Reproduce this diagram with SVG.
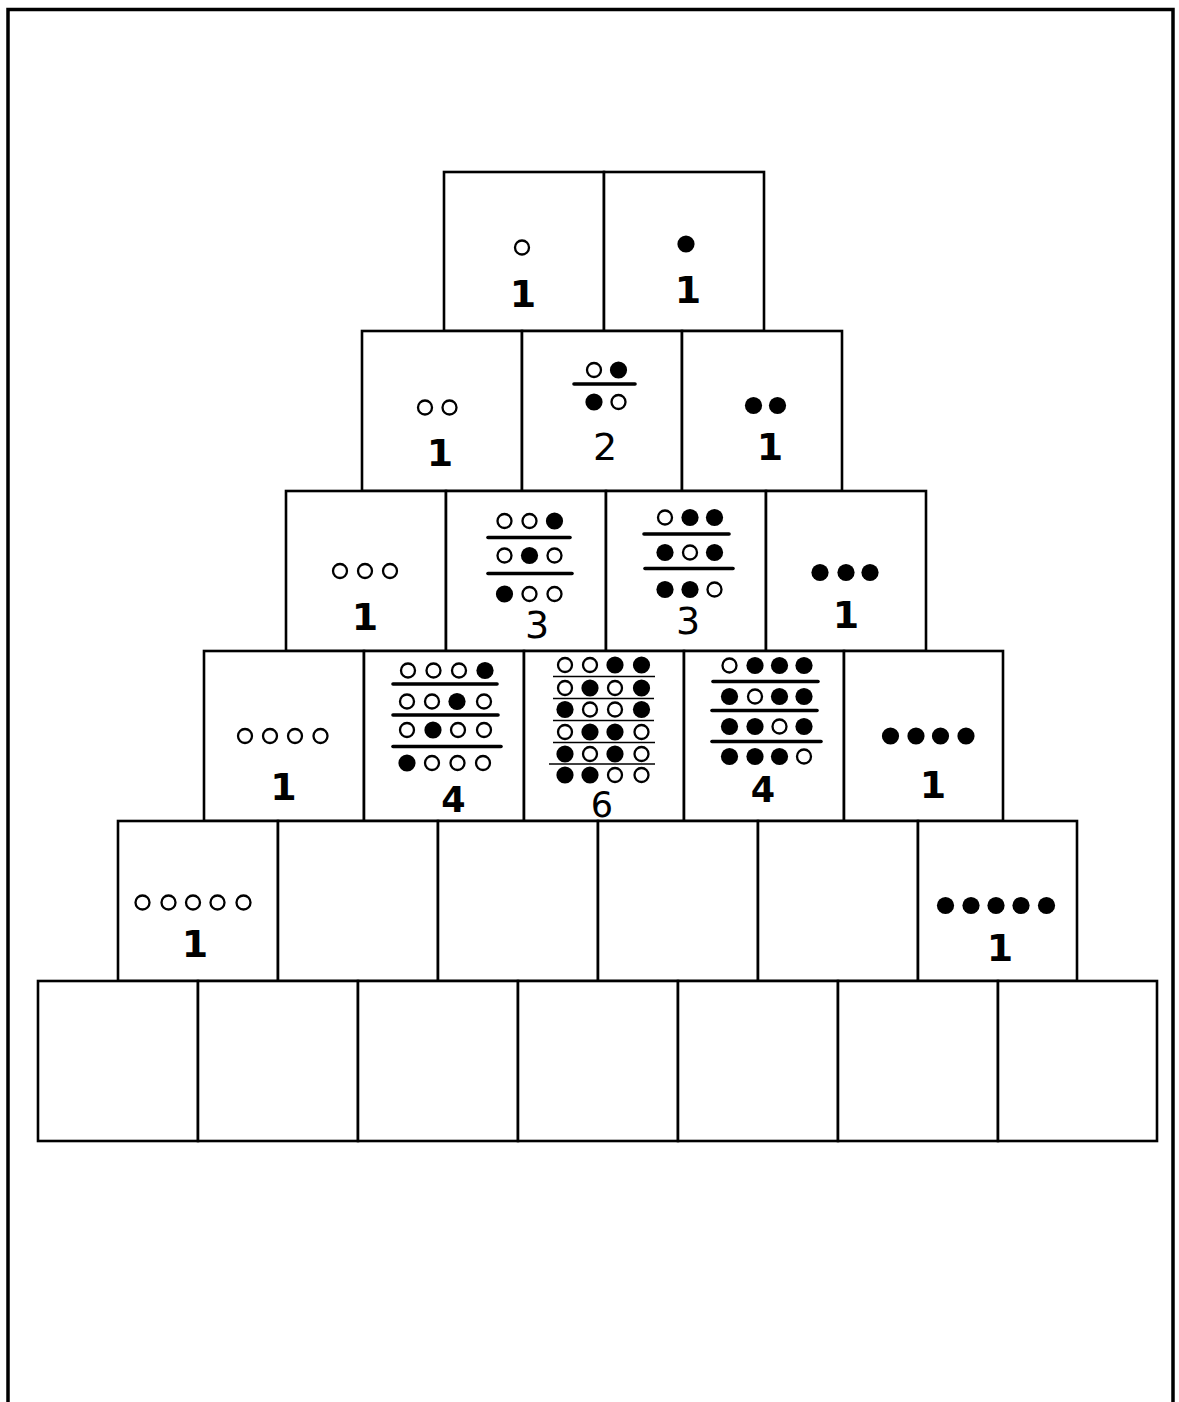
<svg xmlns="http://www.w3.org/2000/svg" xmlns:xlink="http://www.w3.org/1999/xlink" width="1179" height="1402" viewBox="0 0 1179 1402">
<style>
.cell{fill:#fff;stroke:#000;stroke-width:2.6}
.frame{fill:none;stroke:#000;stroke-width:3.5}
.bar{stroke:#000;stroke-width:3.6;stroke-linecap:round}
.thin{stroke:#000;stroke-width:1.6}
.num{font-family:"DejaVu Sans","Liberation Sans",sans-serif;font-size:38px;text-anchor:middle;fill:#000}
.one{font-weight:bold}
.sm{font-size:35px}
</style>
<defs>
<circle id="o" r="7" fill="#fff" stroke="#000" stroke-width="2.3"/>
<circle id="f" r="8.6" fill="#000"/>
</defs>
<rect width="1179" height="1402" fill="#fff"/>
<g id="frame">
<polyline class="frame" points="8,1402 8,9.5 1173,9.5 1173,1402"/>
</g>

<!-- Row 1 -->
<g id="r1c1"><rect class="cell" x="444" y="172" width="160" height="159"/>
<use xlink:href="#o" x="522" y="247.5"/>
<text class="num one" x="523" y="307">1</text></g>
<g id="r1c2"><rect class="cell" x="604" y="172" width="160" height="159"/>
<use xlink:href="#f" x="686" y="244"/>
<text class="num one" x="688" y="303">1</text></g>

<!-- Row 2 -->
<g id="r2c1"><rect class="cell" x="362" y="331" width="160" height="160"/>
<use xlink:href="#o" x="425" y="407.5"/><use xlink:href="#o" x="449.5" y="407.5"/>
<text class="num one" x="440" y="466">1</text></g>
<g id="r2c2"><rect class="cell" x="522" y="331" width="160" height="160"/>
<use xlink:href="#o" x="594" y="370"/><use xlink:href="#f" x="618.5" y="370"/>
<line class="bar" x1="574" y1="384" x2="635" y2="384"/>
<use xlink:href="#f" x="594" y="402"/><use xlink:href="#o" x="618.5" y="402"/>
<text class="num" x="605" y="460">2</text></g>
<g id="r2c3"><rect class="cell" x="682" y="331" width="160" height="160"/>
<use xlink:href="#f" x="753.5" y="405.5"/><use xlink:href="#f" x="777.5" y="405.5"/>
<text class="num one" x="770" y="460">1</text></g>

<!-- Row 3 -->
<g id="r3c1"><rect class="cell" x="286" y="491" width="160" height="160"/>
<use xlink:href="#o" x="340" y="571"/><use xlink:href="#o" x="365" y="571"/><use xlink:href="#o" x="390" y="571"/>
<text class="num one" x="365" y="630">1</text></g>
<g id="r3c2"><rect class="cell" x="446" y="491" width="160" height="160"/>
<use xlink:href="#o" x="504.5" y="521"/><use xlink:href="#o" x="529.5" y="521"/><use xlink:href="#f" x="554.5" y="521"/>
<line class="bar" x1="488" y1="537.5" x2="570" y2="537.5"/>
<use xlink:href="#o" x="504.5" y="555.5"/><use xlink:href="#f" x="529.5" y="555.5"/><use xlink:href="#o" x="554.5" y="555.5"/>
<line class="bar" x1="488" y1="573.5" x2="572" y2="573.5"/>
<use xlink:href="#f" x="504.5" y="594"/><use xlink:href="#o" x="529.5" y="594"/><use xlink:href="#o" x="554.5" y="594"/>
<text class="num" x="537" y="638">3</text></g>
<g id="r3c3"><rect class="cell" x="606" y="491" width="160" height="160"/>
<use xlink:href="#o" x="665" y="517.5"/><use xlink:href="#f" x="690" y="517.5"/><use xlink:href="#f" x="714.5" y="517.5"/>
<line class="bar" x1="644" y1="534" x2="729" y2="534"/>
<use xlink:href="#f" x="665" y="552.5"/><use xlink:href="#o" x="690" y="552.5"/><use xlink:href="#f" x="714.5" y="552.5"/>
<line class="bar" x1="645" y1="568.5" x2="733" y2="568.5"/>
<use xlink:href="#f" x="665" y="589.5"/><use xlink:href="#f" x="690" y="589.5"/><use xlink:href="#o" x="714.5" y="589.5"/>
<text class="num" x="688" y="634">3</text></g>
<g id="r3c4"><rect class="cell" x="766" y="491" width="160" height="160"/>
<use xlink:href="#f" x="820" y="572.5"/><use xlink:href="#f" x="846" y="572.5"/><use xlink:href="#f" x="870" y="572.5"/>
<text class="num one" x="846" y="628">1</text></g>

<!-- Row 4 -->
<g id="r4c1"><rect class="cell" x="204" y="651" width="160" height="170"/>
<use xlink:href="#o" x="245" y="736"/><use xlink:href="#o" x="270" y="736"/><use xlink:href="#o" x="295" y="736"/><use xlink:href="#o" x="320.5" y="736"/>
<text class="num one" x="283.5" y="800">1</text></g>
<g id="r4c2"><rect class="cell" x="364" y="651" width="160" height="170"/>
<use xlink:href="#o" x="408" y="670.5"/><use xlink:href="#o" x="433.5" y="670.5"/><use xlink:href="#o" x="459" y="670.5"/><use xlink:href="#f" x="485" y="670.5"/>
<line class="bar" x1="393" y1="684" x2="497" y2="684"/>
<use xlink:href="#o" x="407" y="701.5"/><use xlink:href="#o" x="432" y="701.5"/><use xlink:href="#f" x="457" y="701.5"/><use xlink:href="#o" x="484" y="701.5"/>
<line class="bar" x1="393" y1="715" x2="498" y2="715"/>
<use xlink:href="#o" x="407" y="730"/><use xlink:href="#f" x="433" y="730"/><use xlink:href="#o" x="458" y="730"/><use xlink:href="#o" x="484" y="730"/>
<line class="bar" x1="393" y1="746.5" x2="501" y2="746.5"/>
<use xlink:href="#f" x="407" y="763"/><use xlink:href="#o" x="432" y="763"/><use xlink:href="#o" x="457.5" y="763"/><use xlink:href="#o" x="483" y="763"/>
<text class="num sm one" x="453.5" y="812">4</text></g>
<g id="r4c3"><rect class="cell" x="524" y="651" width="160" height="170"/>
<use xlink:href="#o" x="565" y="665"/><use xlink:href="#o" x="590" y="665"/><use xlink:href="#f" x="615" y="665"/><use xlink:href="#f" x="641.5" y="665"/>
<line class="thin" x1="553" y1="676.5" x2="655" y2="676.5"/>
<use xlink:href="#o" x="565" y="688"/><use xlink:href="#f" x="590" y="688"/><use xlink:href="#o" x="615" y="688"/><use xlink:href="#f" x="641.5" y="688"/>
<line class="thin" x1="553" y1="698.5" x2="654" y2="698.5"/>
<use xlink:href="#f" x="565" y="709.5"/><use xlink:href="#o" x="590" y="709.5"/><use xlink:href="#o" x="615" y="709.5"/><use xlink:href="#f" x="641.5" y="709.5"/>
<line class="thin" x1="553" y1="720.5" x2="654" y2="720.5"/>
<use xlink:href="#o" x="565" y="732"/><use xlink:href="#f" x="590" y="732"/><use xlink:href="#f" x="615" y="732"/><use xlink:href="#o" x="641.5" y="732"/>
<line class="thin" x1="553" y1="742.5" x2="655" y2="742.5"/>
<use xlink:href="#f" x="565" y="754"/><use xlink:href="#o" x="590" y="754"/><use xlink:href="#f" x="615" y="754"/><use xlink:href="#o" x="641.5" y="754"/>
<line class="thin" x1="549" y1="764" x2="655" y2="764"/>
<use xlink:href="#f" x="565" y="775"/><use xlink:href="#f" x="590" y="775"/><use xlink:href="#o" x="615" y="775"/><use xlink:href="#o" x="641.5" y="775"/>
<text class="num sm" x="602" y="817">6</text></g>
<g id="r4c4"><rect class="cell" x="684" y="651" width="160" height="170"/>
<use xlink:href="#o" x="729.5" y="665.5"/><use xlink:href="#f" x="755" y="665.5"/><use xlink:href="#f" x="779.5" y="665.5"/><use xlink:href="#f" x="804" y="665.5"/>
<line class="bar" x1="713" y1="681.5" x2="818" y2="681.5"/>
<use xlink:href="#f" x="729.5" y="696.5"/><use xlink:href="#o" x="755" y="696.5"/><use xlink:href="#f" x="779.5" y="696.5"/><use xlink:href="#f" x="804" y="696.5"/>
<line class="bar" x1="712" y1="710.5" x2="817" y2="710.5"/>
<use xlink:href="#f" x="729.5" y="726.5"/><use xlink:href="#f" x="755" y="726.5"/><use xlink:href="#o" x="779.5" y="726.5"/><use xlink:href="#f" x="804" y="726.5"/>
<line class="bar" x1="712" y1="741.5" x2="821" y2="741.5"/>
<use xlink:href="#f" x="729.5" y="756.5"/><use xlink:href="#f" x="755" y="756.5"/><use xlink:href="#f" x="779.5" y="756.5"/><use xlink:href="#o" x="804" y="756.5"/>
<text class="num sm one" x="763" y="802">4</text></g>
<g id="r4c5"><rect class="cell" x="844" y="651" width="159" height="170"/>
<use xlink:href="#f" x="890.5" y="736"/><use xlink:href="#f" x="916" y="736"/><use xlink:href="#f" x="940.5" y="736"/><use xlink:href="#f" x="966" y="736"/>
<text class="num one" x="933" y="798">1</text></g>

<!-- Row 5 -->
<g id="r5c1"><rect class="cell" x="118" y="821" width="160" height="160"/>
<use xlink:href="#o" x="142.5" y="902.5"/><use xlink:href="#o" x="168.5" y="902.5"/><use xlink:href="#o" x="193" y="902.5"/><use xlink:href="#o" x="217.5" y="902.5"/><use xlink:href="#o" x="243.5" y="902.5"/>
<text class="num one" x="195" y="957">1</text></g>
<g id="r5c2"><rect class="cell" x="278" y="821" width="160" height="160"/></g>
<g id="r5c3"><rect class="cell" x="438" y="821" width="160" height="160"/></g>
<g id="r5c4"><rect class="cell" x="598" y="821" width="160" height="160"/></g>
<g id="r5c5"><rect class="cell" x="758" y="821" width="160" height="160"/></g>
<g id="r5c6"><rect class="cell" x="918" y="821" width="159" height="160"/>
<use xlink:href="#f" x="945.5" y="905.5"/><use xlink:href="#f" x="971" y="905.5"/><use xlink:href="#f" x="996" y="905.5"/><use xlink:href="#f" x="1021" y="905.5"/><use xlink:href="#f" x="1046.5" y="905.5"/>
<text class="num one" x="1000" y="961">1</text></g>

<!-- Row 6 -->
<g id="r6c1"><rect class="cell" x="38" y="981" width="160" height="160"/></g>
<g id="r6c2"><rect class="cell" x="198" y="981" width="160" height="160"/></g>
<g id="r6c3"><rect class="cell" x="358" y="981" width="160" height="160"/></g>
<g id="r6c4"><rect class="cell" x="518" y="981" width="160" height="160"/></g>
<g id="r6c5"><rect class="cell" x="678" y="981" width="160" height="160"/></g>
<g id="r6c6"><rect class="cell" x="838" y="981" width="160" height="160"/></g>
<g id="r6c7"><rect class="cell" x="998" y="981" width="159" height="160"/></g>

<g id="connectors"></g>
</svg>
